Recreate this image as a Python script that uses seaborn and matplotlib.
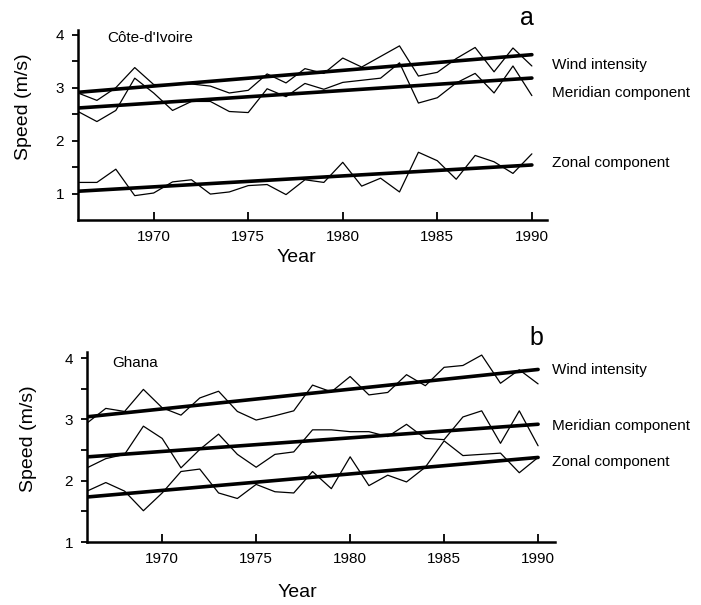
import numpy as np
import pandas as pd
import matplotlib
matplotlib.use("Agg")
import matplotlib.pyplot as plt
from matplotlib.ticker import FixedLocator
import seaborn as sns

# ---------------- data ----------------
years = list(range(1966, 1991))

civ_wind = [2.90, 2.76, 3.00, 3.38, 3.06, 3.06, 3.07, 3.03, 2.90, 2.95, 3.26, 3.09, 3.36,
            3.27, 3.56, 3.39, 3.59, 3.79, 3.22, 3.29, 3.55, 3.76, 3.30, 3.75, 3.41]
civ_meridian = [2.55, 2.36, 2.57, 3.18, 2.90, 2.57, 2.74, 2.74, 2.55, 2.53, 2.98, 2.83, 3.08,
                2.97, 3.10, 3.14, 3.18, 3.47, 2.71, 2.81, 3.09, 3.27, 2.90, 3.41, 2.85]
civ_zonal = [1.21, 1.21, 1.46, 0.96, 1.01, 1.22, 1.26, 0.99, 1.03, 1.15, 1.17, 0.98, 1.26,
             1.21, 1.59, 1.14, 1.29, 1.03, 1.78, 1.62, 1.27, 1.72, 1.60, 1.38, 1.75]

gha_wind = [2.94, 3.18, 3.13, 3.49, 3.19, 3.07, 3.35, 3.46, 3.13, 2.99, 3.06, 3.14, 3.56,
            3.45, 3.70, 3.40, 3.44, 3.73, 3.55, 3.85, 3.88, 4.05, 3.59, 3.81, 3.58]
gha_meridian = [2.21, 2.36, 2.43, 2.89, 2.69, 2.21, 2.51, 2.76, 2.43, 2.22, 2.43, 2.47, 2.83,
                2.83, 2.80, 2.80, 2.72, 2.92, 2.69, 2.67, 3.04, 3.14, 2.61, 3.14, 2.57]
gha_zonal = [1.83, 1.97, 1.83, 1.51, 1.80, 2.15, 2.19, 1.80, 1.71, 1.94, 1.82, 1.80, 2.15,
             1.87, 2.39, 1.92, 2.09, 1.98, 2.22, 2.65, 2.41, 2.43, 2.45, 2.13, 2.38]

series_names = ["Wind intensity", "Meridian component", "Zonal component"]
panel_names = ["Côte-d'Ivoire", "Ghana"]
panel_letters = ["a", "b"]
x_ticks = [1970, 1975, 1980, 1985, 1990]
y_major_ticks = [1, 2, 3, 4]
y_minor_ticks = [1.5, 2.5, 3.5]
x_label = "Year"
y_label = "Speed (m/s)"

# ---------------- style ----------------
sns.set_theme(style="ticks")
plt.rcParams["font.family"] = ["Liberation Sans", "DejaVu Sans"]

fig = plt.figure(figsize=(7.01, 6.05), dpi=100)
W, H = 701, 605

panels = [
    dict(series=[civ_wind, civ_meridian, civ_zonal],
         rect=[78 / W, 1 - 220 / H, 469 / W, 190 / H],
         xlim=(1966, 1990.8), ylim=(0.5, 4.09),
         name_pos=(0.062, 0.958), letter_pos=(0.957, 1.063),
         lab_x=1.011, lab_y=[0.816, 0.668, 0.300],
         ylab_pos=(-0.098, 0.596), xlab_pos=(0.465, -0.153)),
    dict(series=[gha_wind, gha_meridian, gha_zonal],
         rect=[87 / W, 1 - 542 / H, 468 / W, 190 / H],
         xlim=(1966, 1990.9), ylim=(1.0, 4.1),
         name_pos=(0.053, 0.942), letter_pos=(0.96, 1.074),
         lab_x=0.994, lab_y=[0.905, 0.611, 0.421],
         ylab_pos=(-0.107, 0.542), xlab_pos=(0.45, -0.221)),
]

for p, pname, plet in zip(panels, panel_names, panel_letters):
    ax = fig.add_axes(p["rect"])
    df = pd.DataFrame({
        "Year": years * 3,
        "Speed": sum(p["series"], []),
        "Series": [s for s in series_names for _ in years],
    })
    sns.lineplot(data=df, x="Year", y="Speed", units="Series", estimator=None,
                 color="black", linewidth=0.9, ax=ax, legend=False)
    for vals in p["series"]:
        sns.regplot(x=years, y=vals, scatter=False, ci=None, truncate=True,
                    color="black", line_kws=dict(linewidth=2.6), ax=ax)

    ax.set_xlim(*p["xlim"])
    ax.set_ylim(*p["ylim"])
    ax.set_xticks(x_ticks)
    ax.set_xticklabels([str(t) for t in x_ticks])
    ax.set_yticks(y_major_ticks)
    ax.set_yticklabels([str(t) for t in y_major_ticks])
    ax.yaxis.set_minor_locator(FixedLocator(y_minor_ticks))

    sns.despine(ax=ax)
    for side in ["left", "bottom"]:
        ax.spines[side].set_linewidth(1.8)
        ax.spines[side].set_color("black")

    ax.tick_params(axis="x", which="major", direction="in", length=6, width=1.3,
                   labelsize=11, pad=7, colors="black")
    ax.tick_params(axis="y", which="both", direction="out", length=4, width=1.3,
                   labelsize=11, pad=6, colors="black")

    ax.set_xlabel(x_label, fontsize=14, color="black")
    ax.set_ylabel(y_label, fontsize=14, color="black")
    ax.xaxis.set_label_coords(*p["xlab_pos"])
    ax.yaxis.set_label_coords(*p["ylab_pos"])

    ax.text(*p["name_pos"], pname, transform=ax.transAxes, fontsize=11,
            ha="left", va="center", color="black")
    ax.text(*p["letter_pos"], plet, transform=ax.transAxes, fontsize=18,
            ha="center", va="center", color="black", clip_on=False)
    for s, yy in zip(series_names, p["lab_y"]):
        ax.text(p["lab_x"], yy, s, transform=ax.transAxes, fontsize=11,
                ha="left", va="center", color="black", clip_on=False)

    ax.set_facecolor("white")

fig.patch.set_facecolor("white")
fig.savefig("out.png", dpi=100, facecolor="white")
